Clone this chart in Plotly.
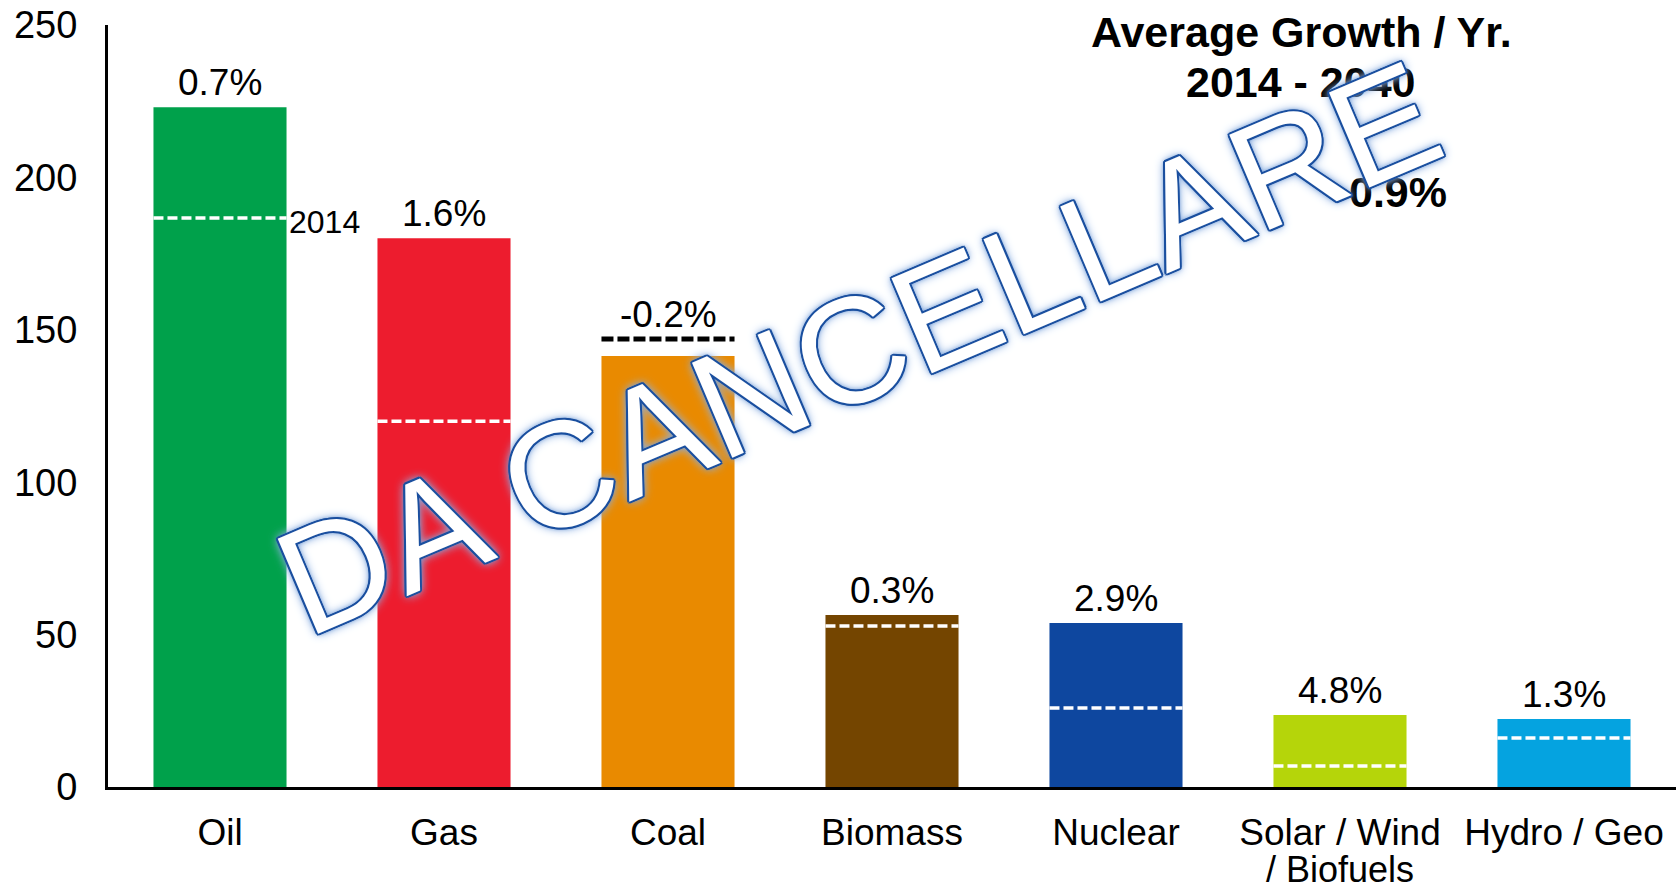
import plotly.graph_objects as go

categories = ["Oil", "Gas", "Coal", "Biomass", "Nuclear", "Solar / Wind", "Hydro / Geo"]
category_second_line = ["", "", "", "", "", "/ Biofuels", ""]
values_2040 = [223, 180, 141.4, 56.4, 53.8, 23.6, 22.3]
values_2014 = [186.7, 120, 147, 52.8, 25.9, 6.9, 16.1]
growth_labels = ["0.7%", "1.6%", "-0.2%", "0.3%", "2.9%", "4.8%", "1.3%"]
bar_colors = ["#00A14B", "#ED1C2E", "#E98A00", "#744500", "#0E479F", "#B5D50A", "#05A3E0"]
y_ticks = [0, 50, 100, 150, 200, 250]
title_lines = ["Average Growth / Yr.", "2014 - 2040"]
total_growth = "0.9%"
watermark = "DA CANCELLARE"

FONT = "Liberation Sans, Arial, sans-serif"
BAR_W = 0.594
x_pos = list(range(len(categories)))

fig = go.Figure()
fig.add_trace(go.Bar(
    x=x_pos, y=values_2040, width=BAR_W,
    marker=dict(color=bar_colors, line=dict(width=0)),
    hoverinfo="skip", showlegend=False,
))

# 2014 reference dashes (white on bars, black where 2014 exceeds 2040)
wx, wy, bx, by = [], [], [], []
for i, (v40, v14) in enumerate(zip(values_2040, values_2014)):
    xs = [i - BAR_W / 2, i + BAR_W / 2, None]
    ys = [v14, v14, None]
    if v14 > v40:
        bx += xs; by += ys
    else:
        wx += xs; wy += ys
fig.add_trace(go.Scatter(x=wx, y=wy, mode="lines",
                         line=dict(color="white", width=3.5, dash="10px,4px"),
                         hoverinfo="skip", showlegend=False))
fig.add_trace(go.Scatter(x=bx, y=by, mode="lines",
                         line=dict(color="black", width=5, dash="12px,4px"),
                         hoverinfo="skip", showlegend=False))

annotations = []
for i, (v40, v14, lab) in enumerate(zip(values_2040, values_2014, growth_labels)):
    annotations.append(dict(
        x=i, y=max(v40, v14), xref="x", yref="y", text=lab, showarrow=False,
        xanchor="center", yanchor="bottom", yshift=2,
        font=dict(family=FONT, size=37, color="black")))

for i, second in enumerate(category_second_line):
    if second:
        annotations.append(dict(
            x=i, y=0, xref="x", yref="y", text=second, showarrow=False,
            xanchor="center", yanchor="middle", yshift=-82, borderpad=0,
            font=dict(family=FONT, size=36, color="black")))

annotations.append(dict(
    x=BAR_W / 2, y=values_2014[0], xref="x", yref="y", text="2014", showarrow=False,
    xanchor="left", yanchor="middle", xshift=0, yshift=-4,
    font=dict(family=FONT, size=32, color="black")))

# title block at top right
PX0, PX1, PY0, PY1 = 108, 1676, 25, 787
def px(xp): return (xp - PX0) / (PX1 - PX0)
def py(yp): return (PY1 - yp) / (PY1 - PY0)

for line, yp in zip(title_lines, [32, 82]):
    annotations.append(dict(
        x=px(1301), y=py(yp), xref="paper", yref="paper", text=f"<b>{line}</b>",
        showarrow=False, xanchor="center", yanchor="middle",
        font=dict(family=FONT, size=43, color="black")))
annotations.append(dict(
    x=px(1398), y=py(192), xref="paper", yref="paper", text=f"<b>{total_growth}</b>",
    showarrow=False, xanchor="center", yanchor="middle",
    font=dict(family=FONT, size=43, color="black")))

# watermark
blue = "#1a4f9f"
offs = [(2, 0), (-2, 0), (0, 2), (0, -2), (1.5, 1.5), (-1.5, 1.5), (1.5, -1.5), (-1.5, -1.5)]
shadow = (", ".join(f"{dx}px {dy}px 0 {blue}" for dx, dy in offs)
          + ", 0 0 4px #3f74c0, 0 0 8px #7fa6dc, 0 0 12px #a9c4ea")
annotations.append(dict(
    x=px(858), y=py(348), xref="paper", yref="paper", text=watermark, showarrow=False,
    xanchor="center", yanchor="middle", textangle=-23,
    font=dict(family=FONT, size=150, color="white", shadow=shadow)))

fig.update_layout(
    width=1679, height=892,
    margin=dict(l=PX0, r=1679 - PX1, t=PY0, b=892 - PY1, autoexpand=False),
    paper_bgcolor="white", plot_bgcolor="white",
    annotations=annotations,
    xaxis=dict(
        range=[-0.5, len(categories) - 0.5],
        tickmode="array", tickvals=x_pos, ticktext=categories,
        showline=True, linecolor="black", linewidth=3,
        showgrid=False, zeroline=False, ticks="", ticklabelstandoff=11,
        tickfont=dict(family=FONT, size=37, color="black"),
        automargin=False, fixedrange=True,
    ),
    yaxis=dict(
        range=[0, 250], tickvals=y_ticks,
        showline=True, linecolor="black", linewidth=3,
        showgrid=False, zeroline=False, ticks="", ticklabelstandoff=20,
        tickfont=dict(family=FONT, size=38, color="black"),
        automargin=False, fixedrange=True,
    ),
    hovermode=False,
)

fig.write_html("out.html", config={"displayModeBar": False},
               post_script="document.body.style.margin='0';document.body.style.overflow='hidden';")
